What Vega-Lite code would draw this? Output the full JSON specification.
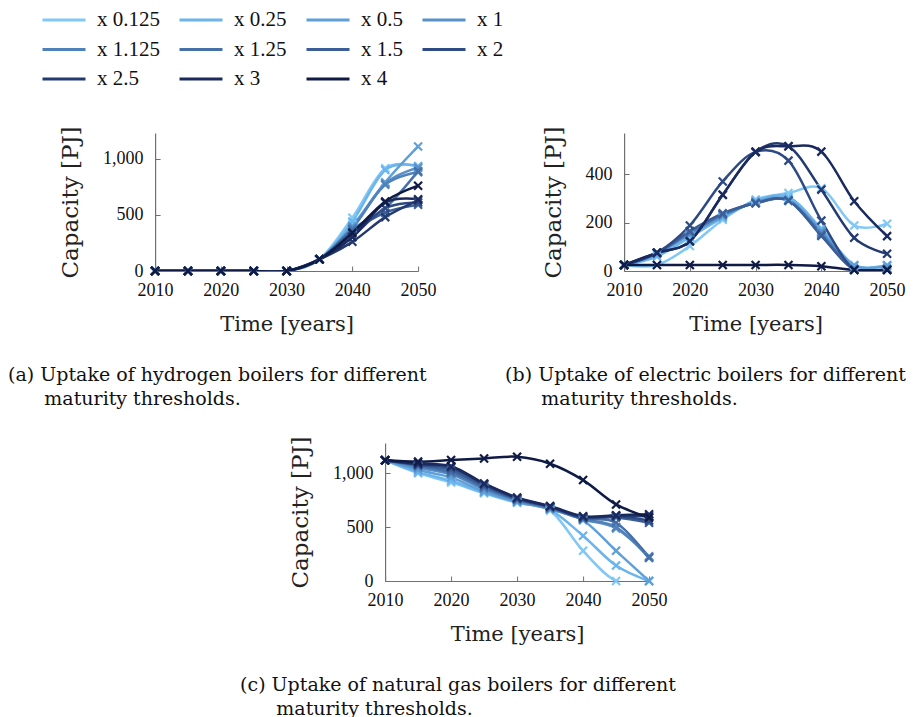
{
  "$schema": "https://vega.github.io/schema/vega-lite/v6.json",
  "padding": {"left": 8, "top": 10, "right": 0, "bottom": 0},
  "background": "white",
  "datasets": {
    "h": [
      {"t":"x 0.125","y":2010,"v":0},{"t":"x 0.125","y":2015,"v":0},{"t":"x 0.125","y":2020,"v":0},{"t":"x 0.125","y":2025,"v":0},{"t":"x 0.125","y":2030,"v":0},{"t":"x 0.125","y":2035,"v":104},{"t":"x 0.125","y":2040,"v":475},{"t":"x 0.125","y":2045,"v":915},{"t":"x 0.125","y":2050,"v":930},
      {"t":"x 0.25","y":2010,"v":0},{"t":"x 0.25","y":2015,"v":0},{"t":"x 0.25","y":2020,"v":0},{"t":"x 0.25","y":2025,"v":0},{"t":"x 0.25","y":2030,"v":0},{"t":"x 0.25","y":2035,"v":104},{"t":"x 0.25","y":2040,"v":440},{"t":"x 0.25","y":2045,"v":900},{"t":"x 0.25","y":2050,"v":935},
      {"t":"x 0.5","y":2010,"v":0},{"t":"x 0.5","y":2015,"v":0},{"t":"x 0.5","y":2020,"v":0},{"t":"x 0.5","y":2025,"v":0},{"t":"x 0.5","y":2030,"v":0},{"t":"x 0.5","y":2035,"v":104},{"t":"x 0.5","y":2040,"v":400},{"t":"x 0.5","y":2045,"v":790},{"t":"x 0.5","y":2050,"v":1110},
      {"t":"x 1","y":2010,"v":0},{"t":"x 1","y":2015,"v":0},{"t":"x 1","y":2020,"v":0},{"t":"x 1","y":2025,"v":0},{"t":"x 1","y":2030,"v":0},{"t":"x 1","y":2035,"v":104},{"t":"x 1","y":2040,"v":390},{"t":"x 1","y":2045,"v":780},{"t":"x 1","y":2050,"v":920},
      {"t":"x 1.125","y":2010,"v":0},{"t":"x 1.125","y":2015,"v":0},{"t":"x 1.125","y":2020,"v":0},{"t":"x 1.125","y":2025,"v":0},{"t":"x 1.125","y":2030,"v":0},{"t":"x 1.125","y":2035,"v":104},{"t":"x 1.125","y":2040,"v":380},{"t":"x 1.125","y":2045,"v":770},{"t":"x 1.125","y":2050,"v":880},
      {"t":"x 1.25","y":2010,"v":0},{"t":"x 1.25","y":2015,"v":0},{"t":"x 1.25","y":2020,"v":0},{"t":"x 1.25","y":2025,"v":0},{"t":"x 1.25","y":2030,"v":0},{"t":"x 1.25","y":2035,"v":104},{"t":"x 1.25","y":2040,"v":370},{"t":"x 1.25","y":2045,"v":560},{"t":"x 1.25","y":2050,"v":890},
      {"t":"x 1.5","y":2010,"v":0},{"t":"x 1.5","y":2015,"v":0},{"t":"x 1.5","y":2020,"v":0},{"t":"x 1.5","y":2025,"v":0},{"t":"x 1.5","y":2030,"v":0},{"t":"x 1.5","y":2035,"v":104},{"t":"x 1.5","y":2040,"v":350},{"t":"x 1.5","y":2045,"v":520},{"t":"x 1.5","y":2050,"v":590},
      {"t":"x 2","y":2010,"v":0},{"t":"x 2","y":2015,"v":0},{"t":"x 2","y":2020,"v":0},{"t":"x 2","y":2025,"v":0},{"t":"x 2","y":2030,"v":0},{"t":"x 2","y":2035,"v":104},{"t":"x 2","y":2040,"v":310},{"t":"x 2","y":2045,"v":560},{"t":"x 2","y":2050,"v":610},
      {"t":"x 2.5","y":2010,"v":0},{"t":"x 2.5","y":2015,"v":0},{"t":"x 2.5","y":2020,"v":0},{"t":"x 2.5","y":2025,"v":0},{"t":"x 2.5","y":2030,"v":0},{"t":"x 2.5","y":2035,"v":104},{"t":"x 2.5","y":2040,"v":260},{"t":"x 2.5","y":2045,"v":480},{"t":"x 2.5","y":2050,"v":630},
      {"t":"x 3","y":2010,"v":0},{"t":"x 3","y":2015,"v":0},{"t":"x 3","y":2020,"v":0},{"t":"x 3","y":2025,"v":0},{"t":"x 3","y":2030,"v":0},{"t":"x 3","y":2035,"v":104},{"t":"x 3","y":2040,"v":300},{"t":"x 3","y":2045,"v":610},{"t":"x 3","y":2050,"v":640},
      {"t":"x 4","y":2010,"v":0},{"t":"x 4","y":2015,"v":0},{"t":"x 4","y":2020,"v":0},{"t":"x 4","y":2025,"v":0},{"t":"x 4","y":2030,"v":0},{"t":"x 4","y":2035,"v":104},{"t":"x 4","y":2040,"v":340},{"t":"x 4","y":2045,"v":620},{"t":"x 4","y":2050,"v":760}
    ],
    "e": [
      {"t":"x 0.125","y":2010,"v":25},{"t":"x 0.125","y":2015,"v":25},{"t":"x 0.125","y":2020,"v":103},{"t":"x 0.125","y":2025,"v":212},{"t":"x 0.125","y":2030,"v":295},{"t":"x 0.125","y":2035,"v":322},{"t":"x 0.125","y":2040,"v":342},{"t":"x 0.125","y":2045,"v":188},{"t":"x 0.125","y":2050,"v":195},
      {"t":"x 0.25","y":2010,"v":25},{"t":"x 0.25","y":2015,"v":60},{"t":"x 0.25","y":2020,"v":140},{"t":"x 0.25","y":2025,"v":220},{"t":"x 0.25","y":2030,"v":290},{"t":"x 0.25","y":2035,"v":305},{"t":"x 0.25","y":2040,"v":175},{"t":"x 0.25","y":2045,"v":25},{"t":"x 0.25","y":2050,"v":25},
      {"t":"x 0.5","y":2010,"v":25},{"t":"x 0.5","y":2015,"v":70},{"t":"x 0.5","y":2020,"v":150},{"t":"x 0.5","y":2025,"v":225},{"t":"x 0.5","y":2030,"v":285},{"t":"x 0.5","y":2035,"v":295},{"t":"x 0.5","y":2040,"v":165},{"t":"x 0.5","y":2045,"v":22},{"t":"x 0.5","y":2050,"v":22},
      {"t":"x 1","y":2010,"v":25},{"t":"x 1","y":2015,"v":75},{"t":"x 1","y":2020,"v":155},{"t":"x 1","y":2025,"v":230},{"t":"x 1","y":2030,"v":282},{"t":"x 1","y":2035,"v":292},{"t":"x 1","y":2040,"v":160},{"t":"x 1","y":2045,"v":10},{"t":"x 1","y":2050,"v":10},
      {"t":"x 1.125","y":2010,"v":25},{"t":"x 1.125","y":2015,"v":75},{"t":"x 1.125","y":2020,"v":158},{"t":"x 1.125","y":2025,"v":232},{"t":"x 1.125","y":2030,"v":282},{"t":"x 1.125","y":2035,"v":292},{"t":"x 1.125","y":2040,"v":155},{"t":"x 1.125","y":2045,"v":8},{"t":"x 1.125","y":2050,"v":8},
      {"t":"x 1.25","y":2010,"v":25},{"t":"x 1.25","y":2015,"v":75},{"t":"x 1.25","y":2020,"v":160},{"t":"x 1.25","y":2025,"v":235},{"t":"x 1.25","y":2030,"v":280},{"t":"x 1.25","y":2035,"v":290},{"t":"x 1.25","y":2040,"v":150},{"t":"x 1.25","y":2045,"v":5},{"t":"x 1.25","y":2050,"v":5},
      {"t":"x 1.5","y":2010,"v":25},{"t":"x 1.5","y":2015,"v":75},{"t":"x 1.5","y":2020,"v":165},{"t":"x 1.5","y":2025,"v":238},{"t":"x 1.5","y":2030,"v":280},{"t":"x 1.5","y":2035,"v":290},{"t":"x 1.5","y":2040,"v":145},{"t":"x 1.5","y":2045,"v":5},{"t":"x 1.5","y":2050,"v":5},
      {"t":"x 2","y":2010,"v":25},{"t":"x 2","y":2015,"v":75},{"t":"x 2","y":2020,"v":188},{"t":"x 2","y":2025,"v":370},{"t":"x 2","y":2030,"v":492},{"t":"x 2","y":2035,"v":456},{"t":"x 2","y":2040,"v":208},{"t":"x 2","y":2045,"v":5},{"t":"x 2","y":2050,"v":5},
      {"t":"x 2.5","y":2010,"v":25},{"t":"x 2.5","y":2015,"v":75},{"t":"x 2.5","y":2020,"v":123},{"t":"x 2.5","y":2025,"v":315},{"t":"x 2.5","y":2030,"v":492},{"t":"x 2.5","y":2035,"v":515},{"t":"x 2.5","y":2040,"v":336},{"t":"x 2.5","y":2045,"v":137},{"t":"x 2.5","y":2050,"v":71},
      {"t":"x 3","y":2010,"v":25},{"t":"x 3","y":2015,"v":75},{"t":"x 3","y":2020,"v":123},{"t":"x 3","y":2025,"v":315},{"t":"x 3","y":2030,"v":492},{"t":"x 3","y":2035,"v":515},{"t":"x 3","y":2040,"v":493},{"t":"x 3","y":2045,"v":288},{"t":"x 3","y":2050,"v":144},
      {"t":"x 4","y":2010,"v":25},{"t":"x 4","y":2015,"v":25},{"t":"x 4","y":2020,"v":25},{"t":"x 4","y":2025,"v":25},{"t":"x 4","y":2030,"v":25},{"t":"x 4","y":2035,"v":25},{"t":"x 4","y":2040,"v":20},{"t":"x 4","y":2045,"v":4},{"t":"x 4","y":2050,"v":4}
    ],
    "g": [
      {"t":"x 0.125","y":2010,"v":1120},{"t":"x 0.125","y":2015,"v":1000},{"t":"x 0.125","y":2020,"v":915},{"t":"x 0.125","y":2025,"v":814},{"t":"x 0.125","y":2030,"v":726},{"t":"x 0.125","y":2035,"v":655},{"t":"x 0.125","y":2040,"v":280},{"t":"x 0.125","y":2045,"v":0},{"t":"x 0.125","y":2050,"v":0},
      {"t":"x 0.25","y":2010,"v":1120},{"t":"x 0.25","y":2015,"v":1010},{"t":"x 0.25","y":2020,"v":930},{"t":"x 0.25","y":2025,"v":820},{"t":"x 0.25","y":2030,"v":730},{"t":"x 0.25","y":2035,"v":660},{"t":"x 0.25","y":2040,"v":420},{"t":"x 0.25","y":2045,"v":143},{"t":"x 0.25","y":2050,"v":0},
      {"t":"x 0.5","y":2010,"v":1120},{"t":"x 0.5","y":2015,"v":1030},{"t":"x 0.5","y":2020,"v":960},{"t":"x 0.5","y":2025,"v":830},{"t":"x 0.5","y":2030,"v":735},{"t":"x 0.5","y":2035,"v":665},{"t":"x 0.5","y":2040,"v":564},{"t":"x 0.5","y":2045,"v":280},{"t":"x 0.5","y":2050,"v":0},
      {"t":"x 1","y":2010,"v":1120},{"t":"x 1","y":2015,"v":1050},{"t":"x 1","y":2020,"v":990},{"t":"x 1","y":2025,"v":850},{"t":"x 1","y":2030,"v":745},{"t":"x 1","y":2035,"v":670},{"t":"x 1","y":2040,"v":570},{"t":"x 1","y":2045,"v":488},{"t":"x 1","y":2050,"v":229},
      {"t":"x 1.125","y":2010,"v":1120},{"t":"x 1.125","y":2015,"v":1060},{"t":"x 1.125","y":2020,"v":1000},{"t":"x 1.125","y":2025,"v":860},{"t":"x 1.125","y":2030,"v":750},{"t":"x 1.125","y":2035,"v":675},{"t":"x 1.125","y":2040,"v":575},{"t":"x 1.125","y":2045,"v":500},{"t":"x 1.125","y":2050,"v":213},
      {"t":"x 1.25","y":2010,"v":1120},{"t":"x 1.25","y":2015,"v":1070},{"t":"x 1.25","y":2020,"v":1010},{"t":"x 1.25","y":2025,"v":870},{"t":"x 1.25","y":2030,"v":755},{"t":"x 1.25","y":2035,"v":680},{"t":"x 1.25","y":2040,"v":580},{"t":"x 1.25","y":2045,"v":540},{"t":"x 1.25","y":2050,"v":220},
      {"t":"x 1.5","y":2010,"v":1120},{"t":"x 1.5","y":2015,"v":1075},{"t":"x 1.5","y":2020,"v":1030},{"t":"x 1.5","y":2025,"v":880},{"t":"x 1.5","y":2030,"v":760},{"t":"x 1.5","y":2035,"v":685},{"t":"x 1.5","y":2040,"v":585},{"t":"x 1.5","y":2045,"v":590},{"t":"x 1.5","y":2050,"v":540},
      {"t":"x 2","y":2010,"v":1120},{"t":"x 2","y":2015,"v":1080},{"t":"x 2","y":2020,"v":1050},{"t":"x 2","y":2025,"v":895},{"t":"x 2","y":2030,"v":765},{"t":"x 2","y":2035,"v":690},{"t":"x 2","y":2040,"v":590},{"t":"x 2","y":2045,"v":600},{"t":"x 2","y":2050,"v":560},
      {"t":"x 2.5","y":2010,"v":1120},{"t":"x 2.5","y":2015,"v":1085},{"t":"x 2.5","y":2020,"v":1060},{"t":"x 2.5","y":2025,"v":900},{"t":"x 2.5","y":2030,"v":770},{"t":"x 2.5","y":2035,"v":690},{"t":"x 2.5","y":2040,"v":595},{"t":"x 2.5","y":2045,"v":605},{"t":"x 2.5","y":2050,"v":600},
      {"t":"x 3","y":2010,"v":1120},{"t":"x 3","y":2015,"v":1090},{"t":"x 3","y":2020,"v":1065},{"t":"x 3","y":2025,"v":905},{"t":"x 3","y":2030,"v":775},{"t":"x 3","y":2035,"v":695},{"t":"x 3","y":2040,"v":600},{"t":"x 3","y":2045,"v":610},{"t":"x 3","y":2050,"v":620},
      {"t":"x 4","y":2010,"v":1120},{"t":"x 4","y":2015,"v":1107},{"t":"x 4","y":2020,"v":1122},{"t":"x 4","y":2025,"v":1137},{"t":"x 4","y":2030,"v":1152},{"t":"x 4","y":2035,"v":1088},{"t":"x 4","y":2040,"v":936},{"t":"x 4","y":2045,"v":710},{"t":"x 4","y":2050,"v":588}
    ]
  },
  "vconcat": [
    {
      "hconcat": [
        {
          "data": {"name": "h"},
          "width": 263, "height": 138,
          "title": {"text": ["(a) Uptake of hydrogen boilers for different", "\u200b\u00a0\u00a0\u00a0\u00a0\u00a0\u00a0maturity thresholds."], "orient": "bottom", "anchor": "start", "frame": "group", "dx": -147, "offset": 32},
          "encoding": {
            "x": {"field": "y", "type": "quantitative", "scale": {"domain": [2010, 2050], "nice": false, "zero": false}, "axis": {"values": [2010, 2020, 2030, 2040, 2050], "format": "d", "title": "Time [years]"}},
            "y": {"field": "v", "type": "quantitative", "scale": {"domain": [0, 1230], "nice": false}, "axis": {"values": [0, 500, 1000], "format": ",.0f", "title": "Capacity [PJ]"}},
            "color": {"field": "t", "type": "nominal", "scale": {"domain": ["x 0.125","x 0.25","x 0.5","x 1","x 1.125","x 1.25","x 1.5","x 2","x 2.5","x 3","x 4"], "range": ["#82c8f6","#6bb4ec","#5fa0d8","#5a90c8","#4f82ba","#4670a8","#3b5d98","#2e4a84","#233a70","#1a2a5e","#0f1a45"]}, "legend": {"title": null}}
          },
          "layer": [
            {"mark": {"type": "line", "interpolate": "cardinal", "strokeWidth": 2.5, "clip": true}},
            {"mark": {"type": "point", "shape": "M-1,-1L1,1M-1,1L1,-1", "filled": false, "strokeWidth": 2.2, "size": 64, "opacity": 1}}
          ]
        },
        {
          "data": {"name": "e"},
          "width": 263, "height": 138,
          "title": {"text": ["(b) Uptake of electric boilers for different", "\u200b\u00a0\u00a0\u00a0\u00a0\u00a0\u00a0maturity thresholds."], "orient": "bottom", "anchor": "start", "frame": "group", "dx": -119, "offset": 32},
          "encoding": {
            "x": {"field": "y", "type": "quantitative", "scale": {"domain": [2010, 2050], "nice": false, "zero": false}, "axis": {"values": [2010, 2020, 2030, 2040, 2050], "format": "d", "title": "Time [years]"}},
            "y": {"field": "v", "type": "quantitative", "scale": {"domain": [0, 570], "nice": false}, "axis": {"values": [0, 200, 400], "format": ",.0f", "title": "Capacity [PJ]"}},
            "color": {"field": "t", "type": "nominal", "scale": {"domain": ["x 0.125","x 0.25","x 0.5","x 1","x 1.125","x 1.25","x 1.5","x 2","x 2.5","x 3","x 4"], "range": ["#82c8f6","#6bb4ec","#5fa0d8","#5a90c8","#4f82ba","#4670a8","#3b5d98","#2e4a84","#233a70","#1a2a5e","#0f1a45"]}, "legend": {"title": null}}
          },
          "layer": [
            {"mark": {"type": "line", "interpolate": "cardinal", "strokeWidth": 2.5, "clip": true}},
            {"mark": {"type": "point", "shape": "M-1,-1L1,1M-1,1L1,-1", "filled": false, "strokeWidth": 2.2, "size": 64, "opacity": 1}}
          ]
        }
      ],
      "spacing": 69
    },
    {
      "data": {"name": "g"},
      "width": 264, "height": 138,
      "title": {"text": ["(c) Uptake of natural gas boilers for different", "\u200b\u00a0\u00a0\u00a0\u00a0\u00a0\u00a0maturity thresholds."], "orient": "bottom", "anchor": "start", "frame": "group", "dx": -145, "offset": 32},
      "encoding": {
        "x": {"field": "y", "type": "quantitative", "scale": {"domain": [2010, 2050], "nice": false, "zero": false}, "axis": {"values": [2010, 2020, 2030, 2040, 2050], "format": "d", "title": "Time [years]"}},
        "y": {"field": "v", "type": "quantitative", "scale": {"domain": [0, 1280], "nice": false}, "axis": {"values": [0, 500, 1000], "format": ",.0f", "title": "Capacity [PJ]"}},
        "color": {"field": "t", "type": "nominal", "scale": {"domain": ["x 0.125","x 0.25","x 0.5","x 1","x 1.125","x 1.25","x 1.5","x 2","x 2.5","x 3","x 4"], "range": ["#82c8f6","#6bb4ec","#5fa0d8","#5a90c8","#4f82ba","#4670a8","#3b5d98","#2e4a84","#233a70","#1a2a5e","#0f1a45"]}, "legend": {"title": null}}
      },
      "layer": [
        {"mark": {"type": "line", "interpolate": "cardinal", "strokeWidth": 2.5, "clip": true}},
        {"mark": {"type": "point", "shape": "M-1,-1L1,1M-1,1L1,-1", "filled": false, "strokeWidth": 2.2, "size": 64, "opacity": 1}}
      ]
    }
  ],
  "spacing": 26,
  "center": true,
  "config": {
    "view": {"stroke": null},
    "font": "DejaVu Serif",
    "axis": {"grid": false, "domainColor": "#707070", "domainWidth": 1.2, "tickColor": "#707070", "tickSize": -5, "labelFont": "Liberation Serif", "labelFontSize": 18, "labelColor": "#111", "titleFont": "DejaVu Serif", "titleFontSize": 21, "titleFontWeight": "normal", "titleColor": "#222"},
    "axisX": {"titlePadding": 14, "labelPadding": 15, "labelFlush": false},
    "axisY": {"titlePadding": 20, "labelPadding": 17, "titleFontSize": 23},
    "title": {"font": "DejaVu Serif", "fontSize": 19, "fontWeight": "normal", "color": "#111", "lineHeight": 24, "align": "left"},
    "legend": {"orient": "none", "direction": "horizontal", "legendX": -114, "legendY": -123, "columns": 4, "symbolType": "stroke", "symbolSize": 1849, "symbolStrokeWidth": 3, "clipHeight": 20, "labelFont": "Liberation Serif", "labelFontSize": 21, "labelColor": "#111", "labelOffset": 10, "columnPadding": 18, "rowPadding": 8.5}
  }
}
